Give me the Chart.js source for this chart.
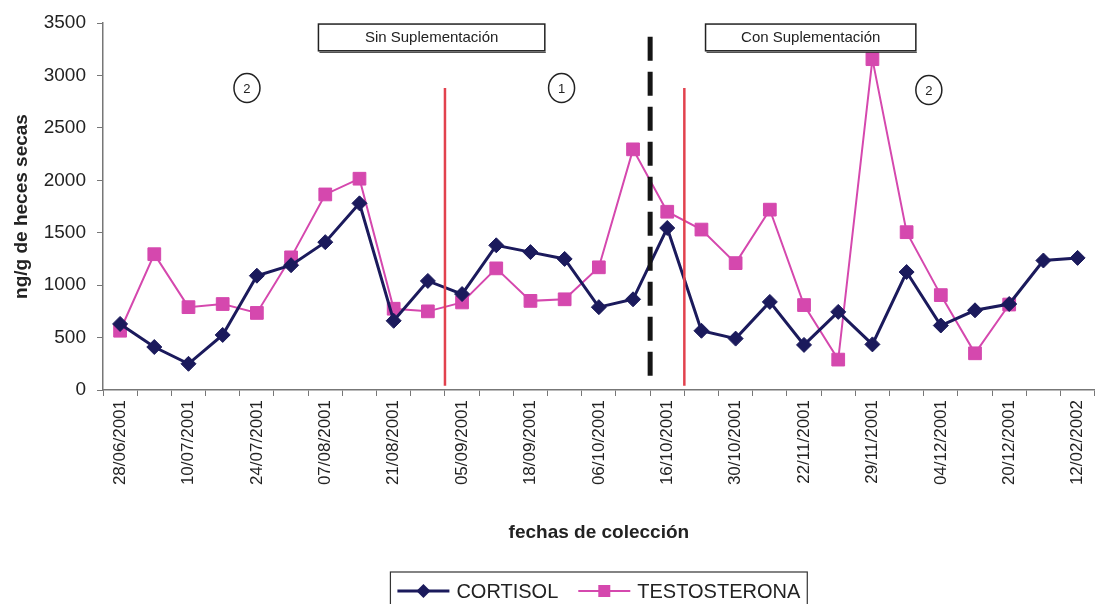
<!DOCTYPE html>
<html lang="es">
<head>
    <meta charset="UTF-8">
    <title>Cortisol y testosterona</title>
    <script src="https://cdn.jsdelivr.net/npm/chart.js"></script>
    <style>
        html, body { margin: 0; padding: 0; background: #fff; overflow: hidden; }
        #wrap { width: 1095px; height: 604px; overflow: hidden; }
    </style>
</head>
<body>
    <div id="wrap"><canvas id="lineChart" width="1102" height="604"></canvas></div>
    <script>
        // fechas que se ven en el eje (una muestra de cada dos)
        var tickLabels = ['28/06/2001', '10/07/2001', '24/07/2001', '07/08/2001', '21/08/2001',
            '05/09/2001', '18/09/2001', '06/10/2001', '16/10/2001', '30/10/2001',
            '22/11/2001', '29/11/2001', '04/12/2001', '20/12/2001', '12/02/2002'];

        // ng/g de heces secas
        var cortisol = [630, 410, 250, 525, 1090, 1190, 1410, 1780, 660, 1040,
            915, 1380, 1315, 1250, 790, 865, 1545, 565, 490, 840,
            430, 745, 435, 1125, 615, 760, 820, 1235, 1260];
        var testosterona = [565, 1295, 790, 820, 735, 1265, 1865, 2015, 775, 750,
            835, 1160, 850, 865, 1170, 2295, 1700, 1530, 1210, 1720,
            810, 290, 3155, 1505, 905, 350, 815, null, null];

        var categories = [];
        for (var i = 0; i < cortisol.length; i++) {
            categories.push(i % 2 === 0 ? tickLabels[i / 2] : '');
        }

        var fuente = "'Liberation Sans', Arial, sans-serif";
        var azul = '#1b1a5c';
        var rosa = '#d548ae';

        // lineas verticales, cajas y circulos del grafico original
        var anotaciones = {
            id: 'anotaciones',
            afterDatasetsDraw: function (chart) {
                var ctx = chart.ctx, x = chart.scales.x, y = chart.scales.y;
                function entre(i) { return (x.getPixelForValue(i) + x.getPixelForValue(i + 1)) / 2; }
                ctx.save();

                // cortes rojos
                ctx.strokeStyle = '#e2424e';
                ctx.lineWidth = 2.5;
                [9, 16].forEach(function (i) {
                    var px = entre(i);
                    ctx.beginPath();
                    ctx.moveTo(px, y.getPixelForValue(2880));
                    ctx.lineTo(px, y.getPixelForValue(40));
                    ctx.stroke();
                });

                // inicio de la suplementacion
                ctx.strokeStyle = '#151515';
                ctx.lineWidth = 5;
                ctx.setLineDash([24, 11]);
                ctx.beginPath();
                ctx.moveTo(entre(15), y.getPixelForValue(3370));
                ctx.lineTo(entre(15), y.getPixelForValue(40));
                ctx.stroke();
                ctx.setLineDash([]);

                // cajas
                function caja(i0, i1, texto) {
                    var x0 = x.getPixelForValue(i0), x1 = x.getPixelForValue(i1);
                    var y0 = y.getPixelForValue(3490), y1 = y.getPixelForValue(3235);
                    ctx.fillStyle = '#fff';
                    ctx.fillRect(x0, y0, x1 - x0, y1 - y0);
                    ctx.strokeStyle = '#222';
                    ctx.lineWidth = 1.5;
                    ctx.strokeRect(x0, y0, x1 - x0, y1 - y0);
                    ctx.lineWidth = 1;
                    ctx.beginPath();
                    ctx.moveTo(x0 + 1, y1 + 1.5);
                    ctx.lineTo(x1 + 1, y1 + 1.5);
                    ctx.stroke();
                    ctx.fillStyle = '#222';
                    ctx.font = '15px ' + fuente;
                    ctx.textAlign = 'center';
                    ctx.textBaseline = 'middle';
                    ctx.fillText(texto, (x0 + x1) / 2, (y0 + y1) / 2);
                }
                caja(5.8, 12.42, 'Sin Suplementación');
                caja(17.12, 23.27, 'Con Suplementación');

                // periodos
                function circulo(i, v, texto) {
                    var cx = x.getPixelForValue(i), cy = y.getPixelForValue(v);
                    ctx.strokeStyle = '#222';
                    ctx.lineWidth = 1.5;
                    ctx.beginPath();
                    ctx.ellipse(cx, cy, 13, 14.5, 0, 0, Math.PI * 2);
                    ctx.stroke();
                    ctx.fillStyle = '#222';
                    ctx.font = '13px ' + fuente;
                    ctx.textAlign = 'center';
                    ctx.textBaseline = 'middle';
                    ctx.fillText(texto, cx, cy + 1);
                }
                circulo(3.71, 2880, '2');
                circulo(12.91, 2880, '1');
                circulo(23.65, 2860, '2');

                ctx.restore();
            },
            afterDraw: function (chart) {
                // leyenda con recuadro, linea y marcador como en Excel
                var ctx = chart.ctx, area = chart.chartArea;
                ctx.save();
                ctx.font = '20px ' + fuente;
                var items = chart.data.datasets.map(function (ds) {
                    return { texto: ds.label, color: ds.borderColor, estilo: ds.pointStyle, ancho: ctx.measureText(ds.label).width };
                });
                var linea = 52, sep = 7, entreItems = 20, pad = 7;
                var total = pad * 2 + entreItems * (items.length - 1);
                items.forEach(function (it) { total += linea + sep + it.ancho; });
                var cx = (area.left + area.right) / 2;
                var left = cx - total / 2, top = 572, cy = 591;

                ctx.strokeStyle = '#333';
                ctx.lineWidth = 1.2;
                ctx.strokeRect(left, top, total, 40);

                var px = left + pad;
                items.forEach(function (it) {
                    ctx.strokeStyle = it.color;
                    ctx.lineWidth = it.estilo === 'rectRot' ? 3 : 2;
                    ctx.beginPath();
                    ctx.moveTo(px, cy);
                    ctx.lineTo(px + linea, cy);
                    ctx.stroke();
                    var mx = px + linea / 2;
                    ctx.fillStyle = it.color;
                    ctx.beginPath();
                    if (it.estilo === 'rectRot') {
                        ctx.moveTo(mx, cy - 7);
                        ctx.lineTo(mx + 7, cy);
                        ctx.lineTo(mx, cy + 7);
                        ctx.lineTo(mx - 7, cy);
                        ctx.closePath();
                    } else {
                        ctx.rect(mx - 6, cy - 6, 12, 12);
                    }
                    ctx.fill();
                    px += linea + sep;
                    ctx.fillStyle = '#222';
                    ctx.textAlign = 'left';
                    ctx.textBaseline = 'middle';
                    ctx.fillText(it.texto, px, cy + 1);
                    px += it.ancho + entreItems;
                });
                ctx.restore();
            }
        };

        var lineChartCtx = document.getElementById('lineChart').getContext('2d');
        new Chart(lineChartCtx, {
            type: 'line',
            data: {
                labels: categories,
                datasets: [{
                    label: 'CORTISOL',
                    data: cortisol,
                    borderColor: azul,
                    backgroundColor: azul,
                    borderWidth: 3,
                    pointStyle: 'rectRot',
                    pointRadius: 7.5,
                    pointBorderWidth: 1,
                    tension: 0
                }, {
                    label: 'TESTOSTERONA',
                    data: testosterona,
                    borderColor: rosa,
                    backgroundColor: rosa,
                    borderWidth: 2,
                    pointStyle: 'rect',
                    pointRadius: 9,
                    pointBorderWidth: 1,
                    tension: 0
                }]
            },
            options: {
                responsive: false,
                animation: false,
                layout: { autoPadding: false, padding: { top: 23, left: 0, right: 0, bottom: 59 } },
                plugins: { legend: { display: false }, tooltip: { enabled: false } },
                scales: {
                    x: {
                        offset: true,
                        grid: { offset: true, drawOnChartArea: false, tickLength: 6, color: '#777' },
                        border: { color: '#777', width: 1.5 },
                        ticks: {
                            autoSkip: false, minRotation: 90, maxRotation: 90, padding: 4,
                            color: '#222', font: { family: fuente, size: 17 }
                        },
                        title: {
                            display: true, text: 'fechas de colección', color: '#222',
                            font: { family: fuente, size: 19, weight: 'bold' }, padding: { top: 0, bottom: 1 }
                        },
                        afterFit: function (s) { s.height = 155; }
                    },
                    y: {
                        min: 0, max: 3500,
                        grid: { drawOnChartArea: false, tickLength: 6, color: '#777' },
                        border: { color: '#777', width: 1.5 },
                        ticks: {
                            stepSize: 500, padding: 11, color: '#222', font: { family: fuente, size: 19 },
                            callback: function (v) { return String(v); }
                        },
                        title: {
                            display: true, text: 'ng/g de heces secas', color: '#222',
                            font: { family: fuente, size: 19, weight: 'bold' }, padding: { top: 10, bottom: 0 }
                        },
                        afterFit: function (s) { s.width = 103; }
                    }
                }
            },
            plugins: [anotaciones]
        });
    </script>
</body>
</html>
